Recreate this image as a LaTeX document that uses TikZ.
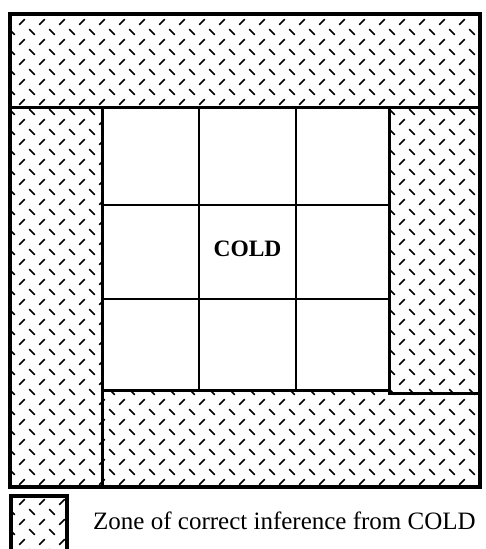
\documentclass[tikz,border=0pt]{standalone}
\usepackage{fontspec}
\setmainfont{Liberation Serif}
\begin{document}
\begin{tikzpicture}[
    x=1pt,y=-1pt,
    frame/.style={draw,line width=3.5pt},
    band/.style={draw,line width=3pt},
    cell/.style={draw,line width=2.2pt},
    tick/.style={line width=1.7pt,line cap=round},
    label/.style={font=\fontsize{23.5}{27}\selectfont\bfseries,inner sep=0pt},
    legend/.style={font=\fontsize{25}{29}\selectfont,inner sep=0pt,anchor=base west}
]
\clip (0,0) rectangle (486,549);

% Hatching of the zone, and of the key swatch
\begin{scope}[even odd rule]
  \clip (10,14) rectangle (480,487) (102,107) rectangle (389,390)
        (11,496) rectangle (67,560);
  \foreach \i in {-1,...,24}
    \foreach \j in {-1,...,27} {
      \draw[tick] (19.5+20*\i,24.5+20*\j) -- (24.5+20*\i,19.5+20*\j);
      \draw[tick] (29.5+20*\i,29.5+20*\j) -- (34.5+20*\i,34.5+20*\j);
    }
\end{scope}

% Outer square and bands
\draw[frame] (10,14) rectangle (480,487);
\draw[band] (10,107) -- (480,107);
\draw[band] (102,107) -- (102,487);
\draw[band] (389,107) -- (389,393) -- (480,393);
\draw[band] (102,390) -- (389,390);

% Inner 3x3 grid
\draw[cell] (199,107) -- (199,390);
\draw[cell] (296,107) -- (296,390);
\draw[cell] (102,205) -- (389,205);
\draw[cell] (102,299) -- (389,299);
\node[label] (cold) at (247.5,249) {COLD};

% Key
\draw[frame] (11,496) rectangle (67,560);
\node[legend] (key) at (93,529) {Zone of correct inference from COLD};
\end{tikzpicture}
\end{document}
